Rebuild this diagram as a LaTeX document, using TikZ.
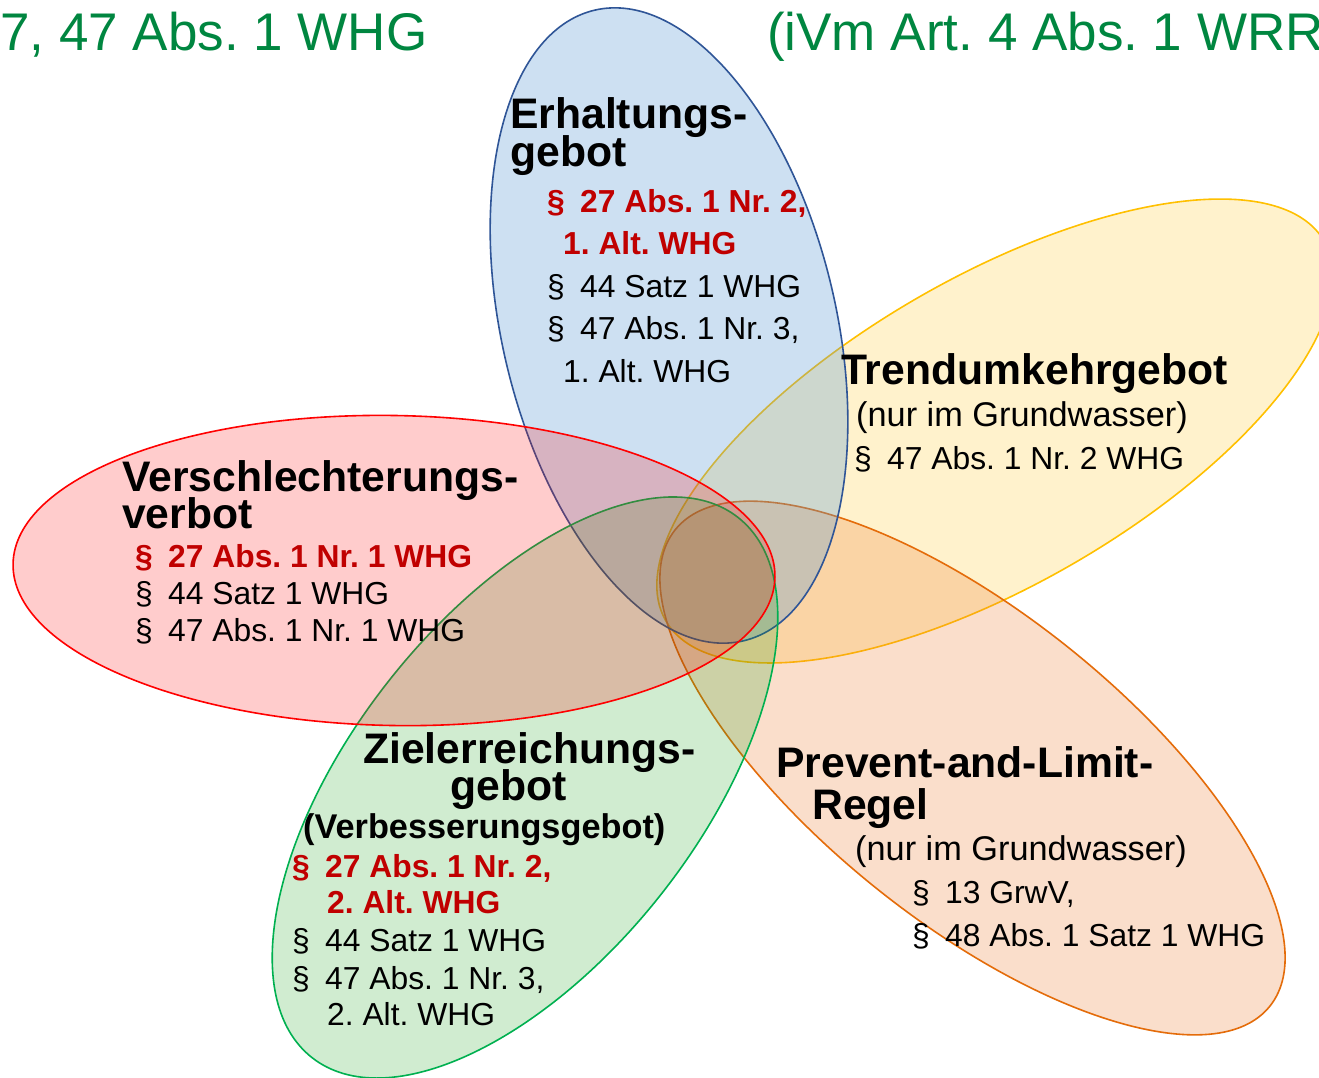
\documentclass[tikz,border=0pt]{standalone}
\usepackage{fontspec}
\setmainfont{Liberation Sans}
\definecolor{titlegreen}{RGB}{0,134,64}
\definecolor{refred}{RGB}{192,0,0}
\definecolor{blueBase}{RGB}{91,155,213}
\definecolor{blueLine}{RGB}{47,85,151}
\definecolor{yellowBase}{RGB}{255,192,0}
\definecolor{yellowLine}{RGB}{255,192,0}
\definecolor{orangeBase}{RGB}{237,125,49}
\definecolor{orangeLine}{RGB}{228,108,10}
\definecolor{greenBase}{RGB}{20,160,20}
\definecolor{greenLine}{RGB}{0,176,80}
\definecolor{redBase}{RGB}{255,0,0}
\definecolor{redLine}{RGB}{255,0,0}
\newcommand{\parasign}{\makebox[33pt][l]{§}}
\tikzset{
  petal/.style={line width=1.6pt},
  head/.style={anchor=base west, inner sep=0pt, font=\fontsize{42.7}{38}\selectfont\bfseries\frenchspacing},
  subhead/.style={anchor=base west, inner sep=0pt, font=\fontsize{34.3}{40}\selectfont\bfseries\frenchspacing},
  ref/.style={anchor=base west, inner sep=0pt, font=\fontsize{31.8}{37}\selectfont\frenchspacing},
  redref/.style={anchor=base west, inner sep=0pt, text=refred, font=\fontsize{31.8}{37}\selectfont\bfseries\frenchspacing},
  note/.style={anchor=base west, inner sep=0pt, font=\fontsize{34.3}{40}\selectfont\frenchspacing},
  titletext/.style={anchor=base west, inner sep=0pt, text=titlegreen, font=\fontsize{53}{60}\selectfont\frenchspacing}
}
\begin{document}
\begin{tikzpicture}[x=1pt,y=-1pt]
\useasboundingbox (0,0) rectangle (1319,1077);
\clip (0,0) rectangle (1319,1077);
\fill[white] (0,0) rectangle (1319,1077);
% ellipses (stacking order: yellow, orange, blue, green, red)
\path[petal, draw=yellowLine, fill=yellowBase, fill opacity=0.2, rotate around={29.95:(995,431)}] (995,431) ellipse [x radius=380, y radius=154];
\path[petal, draw=orangeLine, fill=orangeBase, fill opacity=0.25, rotate around={-38.7:(972.5,768)}] (972.5,768) ellipse [x radius=381, y radius=154];
\path[petal, draw=blueLine, fill=blueBase, fill opacity=0.3, rotate around={103.3:(669,325.5)}] (669,325.5) ellipse [x radius=324, y radius=167];
\path[petal, draw=greenLine, fill=greenBase, fill opacity=0.2, rotate around={51.7:(525,787.5)}] (525,787.5) ellipse [x radius=344, y radius=173];
\path[petal, draw=redLine, fill=redBase, fill opacity=0.2, rotate around={-1:(394,570.5)}] (394,570.5) ellipse [x radius=381, y radius=155];
% titles
\node[titletext] (t1) at (0,50) {7, 47 Abs. 1 WHG};
\node[titletext] (t2) at (767,50) {(iVm Art. 4 Abs. 1 WRR};
% Erhaltungsgebot
\node[head] (e1) at (510,128) {Erhaltungs-};
\node[head] (e2) at (510,166) {gebot};
\node[redref] (e3) at (547,212) {\parasign 27 Abs. 1 Nr. 2,};
\node[redref] (e4) at (563,254) {1. Alt. WHG};
\node[ref] (e5) at (547,297) {\parasign 44 Satz 1 WHG};
\node[ref] (e6) at (547,339) {\parasign 47 Abs. 1 Nr. 3,};
\node[ref] (e7) at (563,382) {1. Alt. WHG};
% Trendumkehrgebot
\node[head] (r1) at (841,384) {Trendumkehrgebot};
\node[note] (r2) at (856,426) {(nur im Grundwasser)};
\node[ref] (r3) at (854,469) {\parasign 47 Abs. 1 Nr. 2 WHG};
% Verschlechterungsverbot
\node[head] (v1) at (122,491) {Verschlechterungs-};
\node[head] (v2) at (122,528) {verbot};
\node[redref] (v3) at (135,567) {\parasign 27 Abs. 1 Nr. 1 WHG};
\node[ref] (v4) at (135,604) {\parasign 44 Satz 1 WHG};
\node[ref] (v5) at (135,641) {\parasign 47 Abs. 1 Nr. 1 WHG};
% Zielerreichungsgebot
\node[head] (z1) at (363,763) {Zielerreichungs-};
\node[head] (z2) at (450,800) {gebot};
\node[subhead] (z3) at (303,838) {(Verbesserungsgebot)};
\node[redref] (z4) at (292,877) {\parasign 27 Abs. 1 Nr. 2,};
\node[redref] (z5) at (327,913) {2. Alt. WHG};
\node[ref] (z6) at (292,951) {\parasign 44 Satz 1 WHG};
\node[ref] (z7) at (292,989) {\parasign 47 Abs. 1 Nr. 3,};
\node[ref] (z8) at (327,1025) {2. Alt. WHG};
% Prevent-and-Limit-Regel
\node[head] (p1) at (776,777) {Prevent-and-Limit-};
\node[head] (p2) at (812,819) {Regel};
\node[note] (p3) at (855,860) {(nur im Grundwasser)};
\node[ref] (p4) at (912,903) {\parasign 13 GrwV,};
\node[ref] (p5) at (912,946) {\parasign 48 Abs. 1 Satz 1 WHG};
\end{tikzpicture}
\end{document}
